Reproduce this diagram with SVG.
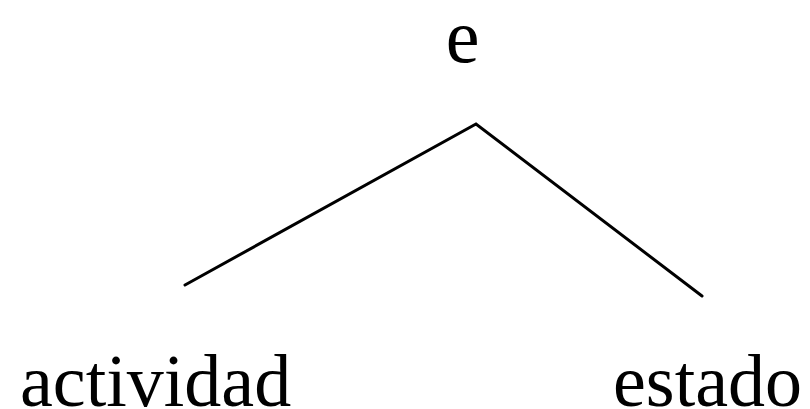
<svg xmlns="http://www.w3.org/2000/svg" width="810" height="409" viewBox="0 0 810 409">
<style>
text{font-family:"Liberation Serif","Times New Roman",serif;fill:#000}
.c{stroke:#000;stroke-width:3;fill:none;stroke-linecap:round;stroke-linejoin:miter}
</style>
<rect width="810" height="409" fill="#fff"/>
<g id="n-e"><text x="462.5" y="62" font-size="76" text-anchor="middle">e</text></g>
<g id="n-actividad"><text x="20" y="406" font-size="74">actividad</text></g>
<g id="n-estado"><text x="613" y="406" font-size="74">estado</text></g>
<g id="connectors">
<path class="c" d="M185 285 L476 124 L702 296"/>
</g>
</svg>
